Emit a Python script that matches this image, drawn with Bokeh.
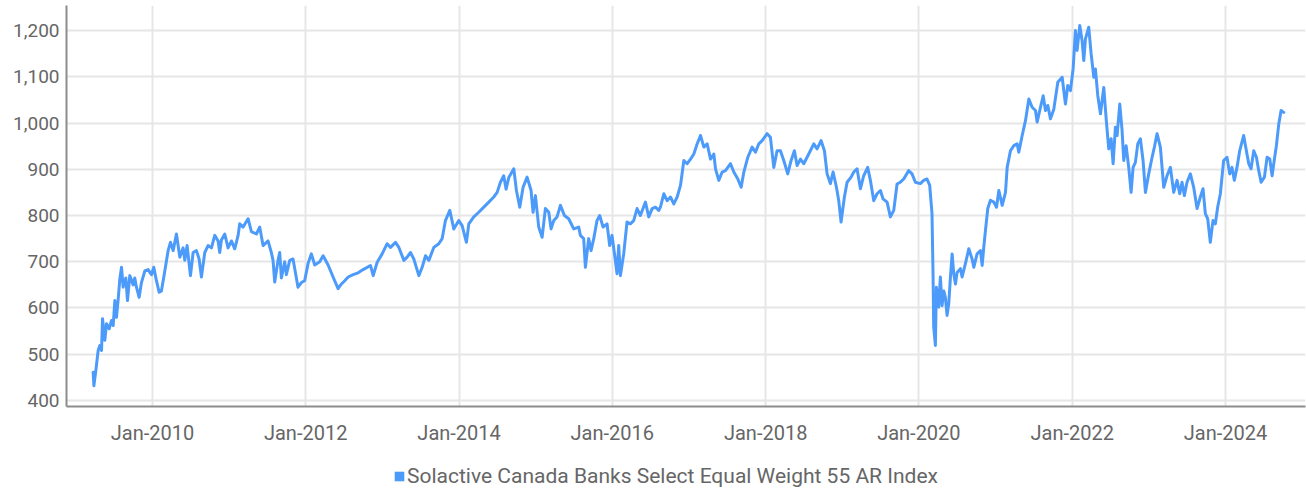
import datetime as dt
from bokeh.plotting import figure
from bokeh.layouts import column
from bokeh.models import (ColumnDataSource, FixedTicker, DatetimeTickFormatter,
                          NumeralTickFormatter, Legend, LegendItem, Range1d)
from bokeh.embed import file_html
from bokeh.resources import INLINE

series_name = "Solactive Canada Banks Select Equal Weight 55 AR Index"

# decimal-year dates and index levels
dates_yr = [
    2009.226, 2009.235, 2009.261, 2009.291, 2009.313, 2009.335, 2009.348, 2009.378, 2009.400, 2009.435,
    2009.465, 2009.487, 2009.509, 2009.530, 2009.552, 2009.574, 2009.596, 2009.617, 2009.652, 2009.674,
    2009.704, 2009.748, 2009.769, 2009.791, 2009.826, 2009.856, 2009.900, 2009.943, 2009.987, 2010.017,
    2010.052, 2010.087, 2010.117, 2010.161, 2010.204, 2010.235, 2010.270, 2010.313, 2010.357, 2010.400,
    2010.422, 2010.452, 2010.496, 2010.531, 2010.574, 2010.609, 2010.639, 2010.683, 2010.726, 2010.770,
    2010.813, 2010.857, 2010.878, 2010.900, 2010.944, 2010.987, 2011.031, 2011.074, 2011.118, 2011.139,
    2011.183, 2011.248, 2011.292, 2011.357, 2011.400, 2011.444, 2011.509, 2011.552, 2011.574, 2011.596,
    2011.639, 2011.661, 2011.683, 2011.726, 2011.748, 2011.792, 2011.835, 2011.900, 2011.944, 2011.987,
    2012.031, 2012.074, 2012.118, 2012.183, 2012.227, 2012.292, 2012.357, 2012.422, 2012.466, 2012.509,
    2012.553, 2012.618, 2012.683, 2012.748,
    2012.844, 2012.879, 2012.931, 2012.996, 2013.061, 2013.105, 2013.170, 2013.214, 2013.279, 2013.322,
    2013.366, 2013.409, 2013.475, 2013.518, 2013.562, 2013.605, 2013.670, 2013.735, 2013.779, 2013.822,
    2013.879, 2013.931, 2013.996, 2014.040, 2014.096, 2014.127, 2014.192, 2014.257, 2014.323, 2014.388,
    2014.453, 2014.497, 2014.540, 2014.583, 2014.614, 2014.649, 2014.714, 2014.749, 2014.792, 2014.836,
    2014.888, 2014.940, 2014.966, 2014.997, 2015.040, 2015.084, 2015.127, 2015.171, 2015.201, 2015.236,
    2015.279, 2015.323, 2015.375, 2015.431, 2015.497, 2015.562, 2015.584, 2015.627, 2015.649, 2015.692,
    2015.723, 2015.758, 2015.801, 2015.836, 2015.880, 2015.932, 2015.966, 2015.997, 2016.040, 2016.062,
    2016.084, 2016.106, 2016.149, 2016.192, 2016.236, 2016.279, 2016.323, 2016.366, 2016.432, 2016.475,
    2016.519, 2016.562, 2016.606,
    2016.627, 2016.671, 2016.714, 2016.758, 2016.801, 2016.845, 2016.888, 2016.932, 2016.975, 2017.019,
    2017.062, 2017.106, 2017.149, 2017.193, 2017.236, 2017.280, 2017.323, 2017.345, 2017.388, 2017.432,
    2017.475, 2017.541, 2017.584, 2017.636, 2017.680, 2017.715, 2017.767, 2017.823, 2017.867, 2017.910,
    2017.954, 2018.019, 2018.062, 2018.106, 2018.149, 2018.193, 2018.236, 2018.288, 2018.332, 2018.375,
    2018.410, 2018.454, 2018.497, 2018.562, 2018.628, 2018.671, 2018.723, 2018.767, 2018.802, 2018.845,
    2018.880, 2018.924, 2018.954, 2018.984, 2019.028, 2019.063, 2019.115, 2019.150, 2019.193, 2019.237,
    2019.280, 2019.332, 2019.367, 2019.411, 2019.454, 2019.498, 2019.532, 2019.585, 2019.628, 2019.672,
    2019.715, 2019.758, 2019.802, 2019.867, 2019.911, 2019.954, 2020.019, 2020.063, 2020.106, 2020.141,
    2020.171,
    2020.185, 2020.193, 2020.215, 2020.228, 2020.258, 2020.280, 2020.302, 2020.324, 2020.345, 2020.367,
    2020.389, 2020.411, 2020.433, 2020.454, 2020.476, 2020.498, 2020.541, 2020.563, 2020.606, 2020.650,
    2020.693, 2020.715, 2020.758, 2020.802, 2020.824, 2020.845, 2020.867, 2020.897, 2020.932, 2020.976,
    2021.011, 2021.041, 2021.085, 2021.128, 2021.150, 2021.193,
    2021.237, 2021.280, 2021.302, 2021.346, 2021.389, 2021.433, 2021.476, 2021.520, 2021.541, 2021.585,
    2021.620, 2021.650, 2021.681, 2021.715, 2021.759, 2021.811, 2021.868, 2021.911, 2021.941, 2021.976,
    2022.011, 2022.041, 2022.063, 2022.098, 2022.128, 2022.150, 2022.172, 2022.215, 2022.246, 2022.281,
    2022.302, 2022.333, 2022.368, 2022.411, 2022.446, 2022.476, 2022.507, 2022.533, 2022.563, 2022.585,
    2022.620, 2022.650, 2022.672, 2022.703, 2022.737, 2022.768, 2022.794, 2022.824, 2022.855, 2022.889,
    2022.924, 2022.955, 2022.998, 2023.042, 2023.072, 2023.107, 2023.150, 2023.194, 2023.237, 2023.281,
    2023.324, 2023.368, 2023.403, 2023.433, 2023.463, 2023.498, 2023.542, 2023.585, 2023.629, 2023.672,
    2023.707, 2023.737, 2023.768, 2023.802, 2023.837, 2023.868, 2023.898, 2023.933, 2023.976, 2024.020,
    2024.055, 2024.085, 2024.115, 2024.150, 2024.185, 2024.237, 2024.272, 2024.303, 2024.333, 2024.368,
    2024.403, 2024.433, 2024.464, 2024.507, 2024.542, 2024.577, 2024.607, 2024.637, 2024.663, 2024.694,
    2024.724, 2024.759,
]

index_values = [
    461, 432, 465, 508, 519, 508, 577, 530, 566, 555,
    573, 562, 616, 580, 618, 663, 688, 645, 665, 616,
    670, 650, 665, 645, 623, 655, 680, 683, 672, 688,
    659, 634, 637, 680, 724, 742, 724, 760, 710, 730,
    703, 735, 670, 720, 724, 706, 667, 720, 735, 730,
    757, 745, 720, 747, 760, 730, 745, 728, 757, 782,
    775, 793, 765, 760, 775, 735, 745, 720, 703, 656,
    703, 720, 665, 700, 672, 703, 706, 645, 655, 659,
    696, 717, 693, 700, 713, 693, 667, 642, 652, 659,
    667, 672, 676, 683,
    692, 670, 699, 717, 739, 731, 742, 731, 703, 710,
    720, 706, 670, 688, 713, 703, 731, 739, 750, 789,
    811, 771, 789, 778, 742, 782, 797, 807, 818, 829,
    840, 850, 872, 886, 857, 882, 901, 854, 818, 861,
    883, 854, 807, 843, 775, 753, 815, 807, 771, 789,
    797, 822, 800, 793, 771, 775, 757, 750, 688, 750,
    724, 750, 789, 800, 775, 782, 735, 757, 703, 674,
    735, 670, 717, 786, 782, 789, 815, 800, 829, 797,
    815, 818, 811,
    818, 847, 832, 840, 825, 840, 865, 919, 912, 922,
    933, 955, 973, 948, 955, 922, 933, 901, 876, 894,
    897, 912, 894, 879, 861, 894, 926, 948, 937, 955,
    962, 977, 969, 904, 940, 940, 919, 890, 919, 940,
    908, 922, 912, 933, 955, 944, 962, 940, 890, 869,
    894, 861, 832, 786, 840, 872, 883, 894, 901, 858,
    886, 904, 876, 832, 847, 854, 836, 829, 797, 811,
    868, 872, 879, 897, 890, 872, 869, 876, 879, 865,
    804,
    667, 559, 519, 645, 602, 667, 605, 637, 623, 584,
    609, 667, 717, 674, 652, 677, 685, 667, 696, 728,
    706, 688, 717, 724, 692, 731, 768, 815, 833, 829,
    818, 854, 822, 850, 904, 940,
    951, 955, 937, 973, 1005, 1052, 1034, 1027, 1002, 1034,
    1059, 1027, 1038, 1009, 1030, 1088, 1099, 1041, 1081, 1070,
    1117, 1200, 1157, 1211, 1178, 1135, 1182, 1207, 1150, 1099,
    1117, 1059, 1020, 1077, 1002, 944, 966, 912, 991, 973,
    1041, 984, 919, 951, 904, 850, 904, 915, 955, 966,
    919, 850, 890, 926, 948, 977, 948, 861, 886, 904,
    850, 876, 847, 872, 843, 872, 890, 861, 815, 840,
    858, 804, 793, 742, 789, 782, 818, 847, 919, 926,
    890, 904, 876, 904, 940, 973, 940, 912, 901, 940,
    926, 897, 872, 883, 926, 922, 886, 922, 951, 998,
    1027, 1023,
]

x_tick_years = [2010, 2012, 2014, 2016, 2018, 2020, 2022, 2024]
y_ticks = [400, 500, 600, 700, 800, 900, 1000, 1100, 1200]


def year_to_dt(y):
    year = int(y)
    start = dt.datetime(year, 1, 1)
    end = dt.datetime(year + 1, 1, 1)
    return start + (end - start) * (y - year)


dates = [year_to_dt(y) for y in dates_yr]
source = ColumnDataSource(data=dict(date=dates, value=index_values))

FONT = "Roboto"
TEXT_COLOR = "#666666"
LINE_COLOR = "#4c9bfb"

# ---------------- main chart ----------------
p = figure(width=1306, height=450, x_axis_type="datetime",
           output_backend="svg", toolbar_location=None,
           x_range=Range1d(year_to_dt(2008.878), year_to_dt(2025.042)),
           y_range=Range1d(387, 1254.1),
           min_border_left=66, min_border_right=1, min_border_top=5,
           min_border_bottom=44)
p.outline_line_color = None
p.background_fill_color = "white"

p.line("date", "value", source=source, line_color=LINE_COLOR,
       line_width=3, line_join="round", line_cap="round")

epoch = dt.datetime(1970, 1, 1)
x_ticks_ms = [(dt.datetime(y, 1, 1) - epoch).total_seconds() * 1000 for y in x_tick_years]

p.xaxis.ticker = FixedTicker(ticks=x_ticks_ms)
fmt = "%b-%Y"
p.xaxis.formatter = DatetimeTickFormatter(years=fmt, months=fmt, days=fmt, hours=fmt,
                                          minutes=fmt, seconds=fmt, milliseconds=fmt,
                                          microseconds=fmt, hourmin=fmt, minsec=fmt)
p.yaxis.ticker = FixedTicker(ticks=y_ticks)
p.yaxis.formatter = NumeralTickFormatter(format="0,0")

for ax in (p.xaxis[0], p.yaxis[0]):
    ax.axis_line_color = "#8c8c8c"
    ax.axis_line_width = 2
    ax.major_tick_line_color = None
    ax.minor_tick_line_color = None
    ax.major_tick_out = 0
    ax.major_tick_in = 0
    ax.major_label_text_font = FONT
    ax.major_label_text_color = TEXT_COLOR

p.xaxis.major_label_text_font_size = "20px"
p.yaxis.major_label_text_font_size = "19px"
p.yaxis.major_label_standoff = 7
p.xaxis.major_label_standoff = 14

p.xgrid.ticker = FixedTicker(ticks=x_ticks_ms)
p.ygrid.ticker = FixedTicker(ticks=y_ticks)
for g in (p.xgrid[0], p.ygrid[0]):
    g.grid_line_color = "#e6e6e6"
    g.grid_line_width = 2

# ---------------- legend strip ----------------
lg = figure(width=1306, height=41, output_backend="svg", toolbar_location=None,
            x_axis_type="datetime", x_axis_location=None, y_axis_location=None,
            x_range=Range1d(year_to_dt(2008.878), year_to_dt(2025.042)),
            y_range=Range1d(0, 1),
            min_border_left=0, min_border_right=0, min_border_top=0, min_border_bottom=0)
lg.outline_line_color = None
lg.xgrid.visible = False
lg.ygrid.visible = False
# zero-size bars from the series: nothing drawn, but give a square legend swatch
swatch = lg.vbar(x="date", top="value", bottom="value", width=0, source=source,
                 fill_color=LINE_COLOR, line_color=None)

legend = Legend(items=[LegendItem(label=series_name, renderers=[swatch])],
                location=(327, 3), orientation="horizontal",
                glyph_width=12, glyph_height=12, label_standoff=2,
                padding=0, margin=0, spacing=0,
                border_line_color=None, background_fill_alpha=0,
                label_text_font=FONT, label_text_font_size="21px",
                label_text_color=TEXT_COLOR)
lg.add_layout(legend)

layout = column(p, lg, spacing=0)
open("out.html", "w").write(file_html(layout, INLINE))
